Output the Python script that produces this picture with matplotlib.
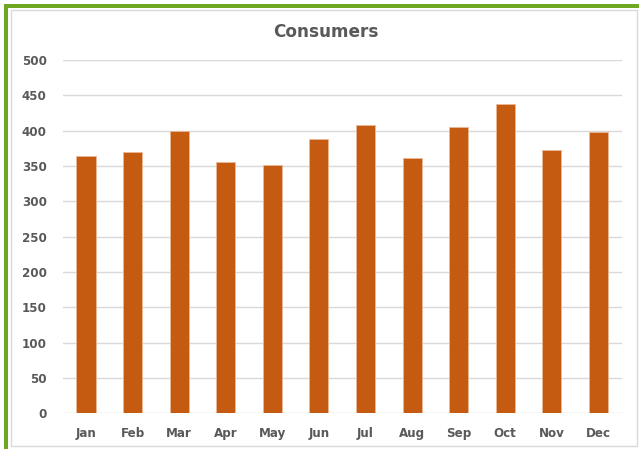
import matplotlib
matplotlib.use("Agg")
import matplotlib.pyplot as plt
from matplotlib.patches import Rectangle

months = ["Jan", "Feb", "Mar", "Apr", "May", "Jun", "Jul", "Aug", "Sep", "Oct", "Nov", "Dec"]
consumers = [364, 370, 400, 355, 352, 388, 408, 361, 405, 438, 373, 398]
yticks = [0, 50, 100, 150, 200, 250, 300, 350, 400, 450, 500]
title = "Consumers"

W, H = 639, 449
fig = plt.figure(figsize=(W / 100, H / 100), dpi=100)
fig.patch.set_facecolor("white")

def px(x0, y0, x1, y1):
    return [x0 / W, 1 - y1 / H, (x1 - x0) / W, (y1 - y0) / H]

# inner chart frame (light grey)
l, b, w, h = px(11, 10, 637, 446)
fig.patches.append(Rectangle((l, b), w, h, transform=fig.transFigure,
                             facecolor="white", edgecolor="#D9D9D9", lw=1.0, zorder=-2))
# green borders (top and left)
l, b, w, h = px(4, 4, 639, 7.5)
fig.patches.append(Rectangle((l, b), w, h, transform=fig.transFigure,
                             facecolor="#6FA820", edgecolor="none", zorder=-1))
l, b, w, h = px(4, 4, 7.5, 449)
fig.patches.append(Rectangle((l, b), w, h, transform=fig.transFigure,
                             facecolor="#6FA820", edgecolor="none", zorder=-1))

ax = fig.add_axes(px(62.7, 60, 621.7, 413.3))
ax.set_zorder(2)
ax.set_facecolor("none")
x = list(range(len(months)))
ax.bar(x, consumers, width=0.41, color="#C55A11", edgecolor="#EBB795", linewidth=0.6, zorder=3)
ax.set_xlim(-0.5, len(months) - 0.5)
ax.set_ylim(0, 500)
ax.set_yticks(yticks)
ax.set_yticklabels([str(v) for v in yticks])
ax.set_xticks(x)
ax.set_xticklabels(months)
ax.grid(axis="y", color="#D9D9D9", lw=1.0, zorder=0)
ax.set_axisbelow(True)
for s in ax.spines.values():
    s.set_visible(False)
ax.tick_params(axis="both", length=0, colors="#595959", labelsize=8.6)
ax.tick_params(axis="y", pad=11.5)
ax.tick_params(axis="x", pad=10)
for t in ax.get_xticklabels() + ax.get_yticklabels():
    t.set_fontweight("bold")

fig.text(326 / W, 1 - 32 / H, title, ha="center", va="center",
         fontsize=12.2, fontweight="bold", color="#595959", zorder=3)

fig.savefig("out.png", dpi=100)
